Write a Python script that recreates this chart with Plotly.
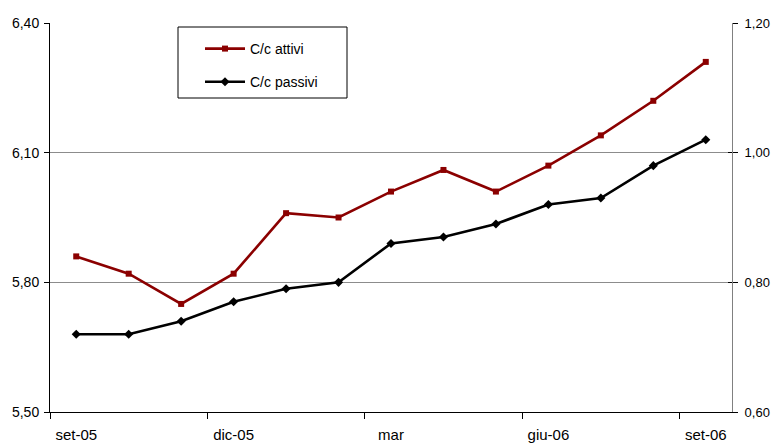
import plotly.graph_objects as go

# Monthly periods (Sep 2005 – Sep 2006)
months = ["set-05", "ott-05", "nov-05", "dic-05", "gen-06", "feb-06", "mar",
          "apr-06", "mag-06", "giu-06", "lug-06", "ago-06", "set-06"]
# Rates (%)
attivi = [5.86, 5.82, 5.75, 5.82, 5.96, 5.95, 6.01, 6.06, 6.01, 6.07, 6.14, 6.22, 6.31]
passivi = [0.72, 0.72, 0.74, 0.77, 0.79, 0.80, 0.86, 0.87, 0.89, 0.92, 0.93, 0.98, 1.02]
left_ticks = [5.50, 5.80, 6.10, 6.40]
right_ticks = [0.60, 0.80, 1.00, 1.20]
label_every = 3

W, H = 774, 443
L, R, T, B = 50, 732, 23, 412

RED = "#8B0000"
FONT = "Liberation Sans, Arial, sans-serif"

idx = list(range(len(months)))
label_pos = idx[::label_every]
tick_pos = [i - 0.5 for i in label_pos]

fig = go.Figure()
fig.add_trace(go.Scatter(
    x=idx, y=attivi, name="C/c attivi", mode="lines+markers",
    line=dict(color=RED, width=2.6),
    marker=dict(symbol="square", size=6, color=RED),
    legendgroup="a", xaxis="x", yaxis="y"))
fig.add_trace(go.Scatter(
    x=idx, y=passivi, name="C/c passivi", mode="lines+markers",
    line=dict(color="#000000", width=2.6),
    marker=dict(symbol="diamond", size=7, color="#000000"),
    legendgroup="b", xaxis="x", yaxis="y2"))

xr = [-0.5, len(months) - 0.5]
px_x = lambda v: (v - L) / (R - L)
px_y = lambda v: (B - v) / (B - T)

fig.update_layout(
    width=W, height=H,
    margin=dict(l=L, r=W - R, t=T, b=H - B, autoexpand=False),
    paper_bgcolor="white", plot_bgcolor="white",
    separators=",.",
    font=dict(family=FONT, size=13, color="#000000"),
    showlegend=True,
    legend=dict(x=px_x(200), y=px_y(33), xanchor="left", yanchor="top",
                bgcolor="rgba(0,0,0,0)", borderwidth=0,
                font=dict(size=14), itemwidth=40, tracegroupgap=12),
    xaxis=dict(range=xr, tickmode="array", tickvals=label_pos,
               ticktext=[months[i] for i in label_pos],
               ticks="", showgrid=False, zeroline=False, automargin=False,
               showline=True, linecolor="#000000", linewidth=1,
               tickfont=dict(size=15), ticklabelstandoff=9),
    xaxis2=dict(range=xr, overlaying="x", tickmode="array", tickvals=tick_pos,
                ticks="outside", ticklen=6, tickcolor="#000000",
                showticklabels=False, showgrid=False, zeroline=False,
                showline=False, anchor="y", side="bottom", automargin=False),
    yaxis=dict(range=[left_ticks[0], left_ticks[-1]], tickmode="array",
               tickvals=left_ticks, tickformat=".2f", automargin=False,
               ticks="outside", ticklen=5, tickcolor="#000000",
               showline=True, linecolor="#000000", linewidth=1,
               showgrid=True, gridcolor="#8c8c8c", gridwidth=1,
               zeroline=False, tickfont=dict(size=14), ticklabelstandoff=2),
    yaxis2=dict(range=[right_ticks[0], right_ticks[-1]], tickmode="array",
                tickvals=right_ticks, tickformat=".2f", overlaying="y",
                side="right", anchor="x", automargin=False,
                ticks="outside", ticklen=5, tickcolor="#000000",
                showline=True, linecolor="#808080", linewidth=1,
                showgrid=False, zeroline=False, tickfont=dict(size=13),
                ticklabelstandoff=4),
    yaxis3=dict(range=[right_ticks[0], right_ticks[-1]], tickmode="array",
                tickvals=right_ticks, overlaying="y", side="right", anchor="x",
                ticks="inside", ticklen=4, tickcolor="#000000", automargin=False,
                showticklabels=False, showline=False, showgrid=False,
                zeroline=False),
    shapes=[dict(type="rect", xref="paper", yref="paper",
                 x0=px_x(178), x1=px_x(347), y0=px_y(98), y1=px_y(27),
                 line=dict(color="#000000", width=1), fillcolor="white",
                 layer="below")],
)
# empty traces so the overlay axes carrying extra tick marks get drawn
fig.add_trace(go.Scatter(x=[None], y=[None], xaxis="x", yaxis="y3",
                         showlegend=False, hoverinfo="skip"))
fig.add_trace(go.Scatter(x=[None], y=[None], xaxis="x2", yaxis="y",
                         showlegend=False, hoverinfo="skip"))

fig.write_html("out.html")
